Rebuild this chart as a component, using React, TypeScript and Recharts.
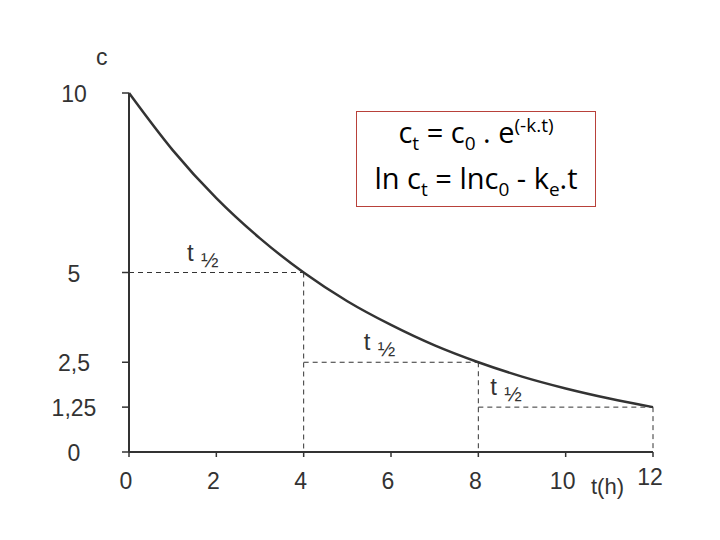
import React from "react";
import { LineChart, Line, XAxis, YAxis, ReferenceLine } from "recharts";

// concentration, one point per hour
const HOURS = [0, 1, 2, 3, 4, 5, 6, 7, 8, 9, 10, 11, 12];
const CONC = [10, 8.41, 7.07, 5.95, 5, 4.2, 3.54, 2.97, 2.5, 2.1, 1.77, 1.49, 1.25];

const X_TICKS = [0, 2, 4, 6, 8, 10, 12];
const Y_TICKS = [0, 1.25, 2.5, 5, 10];

// each half-life step: from, to, level reached
const HALF_FROM = [0, 4, 8];
const HALF_TO = [4, 8, 12];
const HALF_LEVEL = [5, 2.5, 1.25];

const INK = "#333";
const FONT = "'Liberation Sans', Arial, sans-serif";

const data = HOURS.map((t, i) => ({ t, c: CONC[i] }));

const YTick = (props: any) => {
  const { y, payload } = props;
  return (
    <text x={74} y={y + 9} textAnchor="middle" fill={INK} fontSize={23} fontFamily={FONT}>
      {String(payload.value).replace(".", ",")}
    </text>
  );
};

const XTick = (props: any) => {
  const { x, y, payload } = props;
  const lift = payload.value === 12 ? 4 : 0;
  return (
    <text x={x - 3} y={y + 30 - lift} textAnchor="middle" fill={INK} fontSize={23} fontFamily={FONT}>
      {payload.value}
    </text>
  );
};

const HalfLabel = (dx: number) => (props: any) => {
  const { viewBox } = props;
  const x = viewBox.x + dx;
  const y = viewBox.y - 12;
  return (
    <g fill={INK} fontFamily={FONT}>
      <text x={x} y={y} fontSize={24}>t</text>
      <text x={x + 14} y={y + 6} fontSize={21}>½</text>
    </g>
  );
};

const LABEL_DX = [58, 60, 12];

const sub = { fontSize: 19, lineHeight: 0 };

export default function App() {
  return (
    <div style={{ position: "absolute", left: 0, top: 0, width: 720, height: 540, background: "#fff" }}>
      <LineChart width={720} height={540} data={data} margin={{ top: 93, right: 67, bottom: 48, left: 69 }}>
        <XAxis
          dataKey="t"
          type="number"
          domain={[0, 12]}
          ticks={X_TICKS}
          height={40}
          tick={<XTick />}
          tickSize={5}
          tickLine={{ stroke: INK, strokeWidth: 1.5 }}
          axisLine={{ stroke: INK, strokeWidth: 2 }}
        />
        <YAxis
          type="number"
          domain={[0, 10]}
          ticks={Y_TICKS}
          width={60}
          tick={<YTick />}
          tickSize={7}
          tickLine={{ stroke: INK, strokeWidth: 1.5 }}
          axisLine={{ stroke: INK, strokeWidth: 2 }}
        />
        {HALF_LEVEL.map((c, i) => (
          <ReferenceLine
            key={`h${i}`}
            segment={[{ x: HALF_FROM[i], y: c }, { x: HALF_TO[i], y: c }]}
            stroke={INK}
            strokeWidth={1}
            strokeDasharray="5 4"
            label={HalfLabel(LABEL_DX[i])}
          />
        ))}
        {HALF_LEVEL.map((c, i) => (
          <ReferenceLine
            key={`v${i}`}
            segment={[{ x: HALF_TO[i], y: c }, { x: HALF_TO[i], y: 0 }]}
            stroke={INK}
            strokeWidth={1}
            strokeDasharray="5 4"
          />
        ))}
        <Line
          type="monotone"
          dataKey="c"
          stroke={INK}
          strokeWidth={2.5}
          dot={false}
          isAnimationActive={false}
        />
      </LineChart>

      <div style={{ position: "absolute", left: 96, top: 44, fontFamily: FONT, fontSize: 23, color: INK }}>c</div>
      <div style={{ position: "absolute", left: 591, top: 474, fontFamily: FONT, fontSize: 22, color: INK }}>t(h)</div>

      <div
        style={{
          position: "absolute",
          left: 356,
          top: 111,
          width: 238,
          height: 94,
          border: "1px solid #b8413a",
          background: "#fff",
          fontFamily: "'Open Sans', 'Liberation Sans', sans-serif",
          fontSize: 29,
          color: "#000",
          textAlign: "center",
          lineHeight: "46px",
          whiteSpace: "nowrap",
        }}
      >
        <div style={{ marginTop: -3 }}>
          c<sub style={sub}>t</sub> = c<sub style={sub}>0</sub> . e<sup style={sub}>(-k.t)</sup>
        </div>
        <div>
          ln c<sub style={sub}>t</sub> = lnc<sub style={sub}>0</sub> - k<sub style={sub}>e</sub>.t
        </div>
      </div>
    </div>
  );
}
